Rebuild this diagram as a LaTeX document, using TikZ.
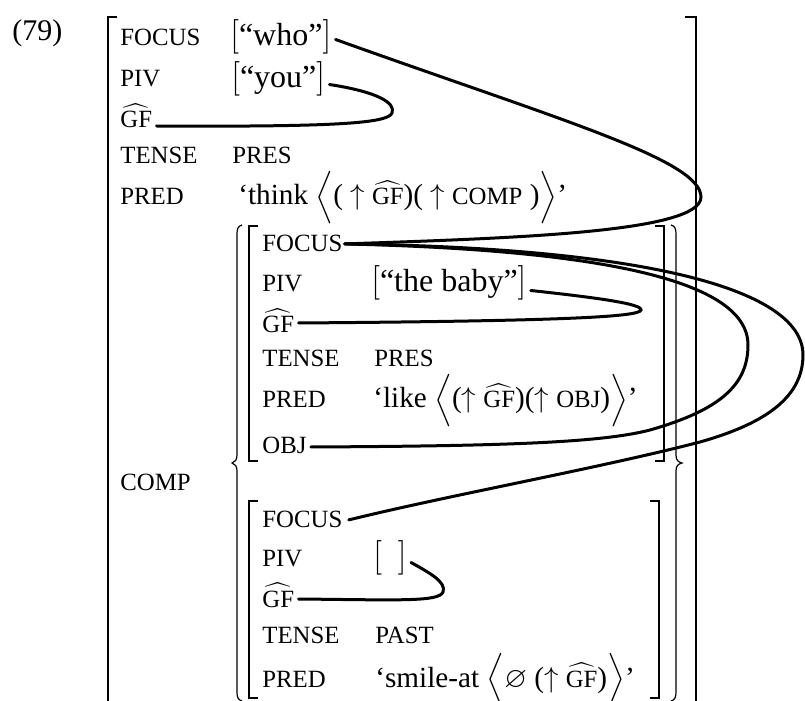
\documentclass[tikz,border=0pt]{standalone}
\usepackage{amssymb}
\usepackage{fontspec}
\setmainfont{Liberation Serif}
\usetikzlibrary{positioning}

\newcommand{\sm}[1]{{\fontsize{12.4}{14}\selectfont #1}}
\newcommand{\gf}{$\widehat{\mbox{GF}}$}
\newcommand{\qval}[1]{$\left[\mbox{#1}\vrule height 13pt depth 4.5pt width 0pt\right]$}
\newcommand{\angled}[1]{$\left\langle\mbox{#1}\vrule height 15pt depth 7pt width 0pt\right\rangle$}

\begin{document}
\begin{tikzpicture}[x=0.5pt, y=-0.5pt,
  lbl/.style={anchor=base west, inner sep=0pt, font=\fontsize{12.4}{14}\selectfont},
  qv/.style={anchor=base west, inner sep=0pt, font=\fontsize{16}{18}\selectfont},
  pv/.style={anchor=base west, inner sep=0pt, font=\fontsize{14.6}{16}\selectfont},
  fsbr/.style={line width=0.6pt},
  link/.style={line width=1.5pt, line cap=round}
]
\useasboundingbox (0,0) rectangle (805,701);

\node[lbl, font=\fontsize{15}{17}\selectfont] (num) at (12,41) {(79)};

\node[lbl] (foc0) at (120,46) {FOCUS};
\node[lbl] (piv0) at (120,87) {PIV};
\node[lbl] (gf0) at (120,128) {\gf};
\node[lbl] (tns0) at (120,164) {TENSE};
\node[lbl] (prd0) at (120,205) {PRED};
\node[lbl] (comp0) at (120,490) {COMP};

\node[qv] (who) at (230,46) {\qval{“who”}};
\node[qv] (you) at (231,88) {\qval{“you”}};
\node[lbl] (pres0) at (232,164) {PRES};
\node[pv] (think) at (238,205) {‘think \angled{( $\uparrow$ \sm{\gf})( $\uparrow$ \sm{COMP} )}’};

\node[lbl] (foc1) at (262,252) {FOCUS};
\node[lbl] (piv1) at (262,292) {PIV};
\node[lbl] (gf1) at (262,333) {\gf};
\node[lbl] (tns1) at (262,367) {TENSE};
\node[lbl] (prd1) at (262,408) {PRED};
\node[lbl] (obj1) at (262,453) {OBJ};

\node[qv] (baby) at (371,292) {\qval{“the baby”}};
\node[lbl] (pres1) at (374,367) {PRES};
\node[pv] (like) at (373,408) {‘like \angled{($\uparrow$ \sm{\gf})($\uparrow$ \sm{OBJ})}’};

\node[lbl] (foc2) at (262,528) {FOCUS};
\node[lbl] (piv2) at (262,567) {PIV};
\node[lbl] (gf2) at (262,607) {\gf};
\node[lbl] (tns2) at (262,643) {TENSE};
\node[lbl] (prd2) at (262,687) {PRED};

\node[qv] (empty) at (373,567) {\qval{\hspace{8pt}}};
\node[lbl] (past2) at (375,643) {PAST};
\node[pv] (smile) at (375,687) {‘smile-at \angled{$\varnothing$ ($\uparrow$ \sm{\gf})}’};

\draw[fsbr] (117,17) -- (108,17) -- (108,701);
\draw[fsbr] (685,17) -- (696,17) -- (696,701);
\draw[fsbr] (242,225) .. controls (238,226) and (237,229) .. (237,234) -- (237,455)
  .. controls (237,460) and (235,462) .. (232,463) .. controls (235,464) and (237,466) .. (237,471)
  -- (237,692) .. controls (237,697) and (238,700) .. (242,701);
\draw[fsbr] (671,225) .. controls (675,226) and (676,229) .. (676,234) -- (676,455)
  .. controls (676,460) and (678,462) .. (682,463) .. controls (678,464) and (676,466) .. (676,471)
  -- (676,692) .. controls (676,697) and (675,700) .. (671,701);
\draw[fsbr] (258,226) -- (249,226) -- (249,461) -- (258,461);
\draw[fsbr] (655,226) -- (664,226) -- (664,461) -- (655,461);
\draw[fsbr] (258,501) -- (249,501) -- (249,698) -- (258,698);
\draw[fsbr] (650,501) -- (659,501) -- (659,698) -- (650,698);

\draw[link] ([shift={(4,2)}]who.east) .. controls (560,120) and (701,160) .. (701,197)
  .. controls (701,232) and (520,238) .. ([xshift=1pt]foc1.east);
\draw[link] ([shift={(4,5)}]you.east) .. controls (378,92) and (396,103) .. (392,113)
  .. controls (388,123) and (340,127) .. ([shift={(4,-2)}]gf0.base east);
\draw[link] ([shift={(4,7)}]baby.east) .. controls (600,298) and (642,304) .. (641,310)
  .. controls (640,317) and (560,321) .. ([shift={(4,-10)}]gf1.base east);
\draw[link] ([xshift=1pt]foc1.east) .. controls (650,248) and (803,290) .. (803,355)
  .. controls (803,400) and (760,425) .. (700,442) .. controls (600,468) and (450,495) .. ([xshift=3pt]foc2.east);
\draw[link] ([xshift=1pt]foc1.east) .. controls (600,250) and (748,280) .. (748,345)
  .. controls (748,385) and (720,410) .. (650,430) .. controls (600,443) and (500,446) .. ([shift={(4,-6)}]obj1.base east);
\draw[link] ([shift={(4,4)}]empty.east) .. controls (428,572) and (447,582) .. (443,592)
  .. controls (439,602) and (400,600) .. ([shift={(4,-8)}]gf2.base east);

\end{tikzpicture}
\end{document}
